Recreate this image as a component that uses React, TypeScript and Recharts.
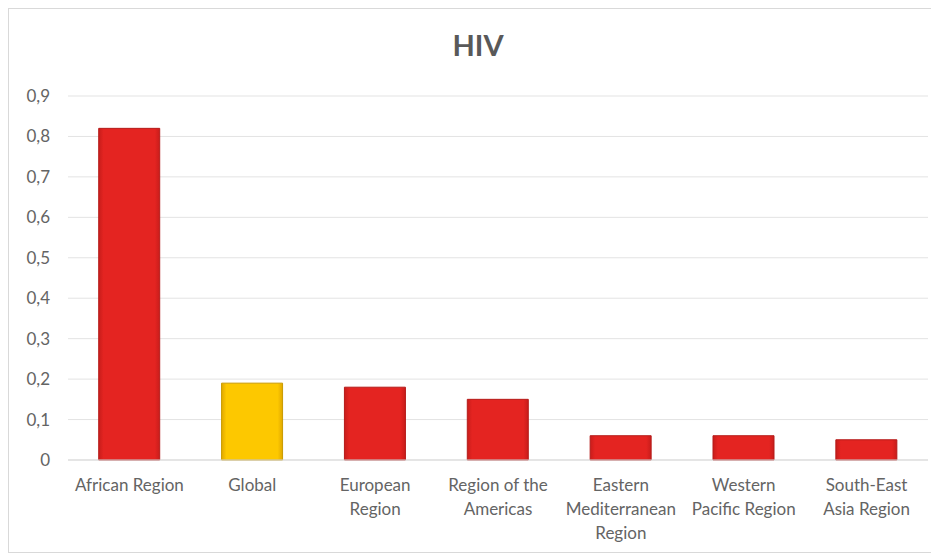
import type { JSX } from "react";
import { ComposedChart, Bar, Cell, CartesianGrid, XAxis, YAxis } from "recharts";

const regions = [
  "African Region",
  "Global",
  "European\nRegion",
  "Region of the\nAmericas",
  "Eastern\nMediterranean\nRegion",
  "Western\nPacific Region",
  "South-East\nAsia Region",
];
const hivValues = [0.82, 0.19, 0.18, 0.15, 0.06, 0.06, 0.05];
const yTicks = [0, 0.1, 0.2, 0.3, 0.4, 0.5, 0.6, 0.7, 0.8, 0.9];

const chartData = regions.map((region, i) => ({ region, value: hivValues[i] }));

const FONT = "Lato, 'Open Sans', sans-serif";
const TEXT = "#646464";

const RegionTick = (props: any): JSX.Element => {
  const { x, y, payload } = props;
  const lines = String(payload.value).split("\n");
  return (
    <text x={x} y={y} textAnchor="middle" fill={TEXT} fontSize={17} fontFamily={FONT}>
      {lines.map((line, i) => (
        <tspan key={i} x={x} dy={i === 0 ? 23 : 24}>
          {line}
        </tspan>
      ))}
    </text>
  );
};

const App = (): JSX.Element => {
  return (
    <div
      style={{
        position: "relative",
        width: 930,
        height: 545,
        border: "1px solid #d9d9d9",
        boxSizing: "border-box",
        background: "#fff",
      }}
    >
      <div
        style={{
          position: "absolute",
          top: 18,
          left: 5,
          width: "100%",
          textAlign: "center",
          fontFamily: FONT,
          fontWeight: 700,
          fontSize: 29,
          color: "#595959",
        }}
      >
        HIV
      </div>
      <ComposedChart
        width={928}
        height={543}
        data={chartData}
        margin={{ top: 87, right: 9, bottom: 12, left: 0 }}
        barCategoryGap="25%"
      >
        <defs>
          <linearGradient id="redFill" x1="0" y1="0" x2="1" y2="0">
            <stop offset="0" stopColor="#c81d1b" />
            <stop offset="0.08" stopColor="#e42421" />
            <stop offset="0.92" stopColor="#e42421" />
            <stop offset="1" stopColor="#c81d1b" />
          </linearGradient>
          <linearGradient id="goldFill" x1="0" y1="0" x2="1" y2="0">
            <stop offset="0" stopColor="#e0a800" />
            <stop offset="0.08" stopColor="#fdc800" />
            <stop offset="0.92" stopColor="#fdc800" />
            <stop offset="1" stopColor="#e0a800" />
          </linearGradient>
        </defs>
        <CartesianGrid vertical={false} stroke="#e3e3e3" />
        <XAxis
          dataKey="region"
          interval={0}
          height={80}
          tickLine={false}
          axisLine={{ stroke: "#d9d9d9" }}
          tick={<RegionTick />}
        />
        <YAxis
          width={59}
          domain={[0, 0.9]}
          ticks={yTicks}
          interval={0}
          tickLine={false}
          axisLine={false}
          tickMargin={12}
          tickFormatter={(v: number) => String(v).replace(".", ",")}
          tick={{ fill: TEXT, fontSize: 17, fontFamily: FONT }}
        />
        <Bar dataKey="value" isAnimationActive={false} strokeWidth={1}>
          {chartData.map((d) => (
            <Cell
              key={d.region}
              fill={d.region === "Global" ? "url(#goldFill)" : "url(#redFill)"}
              stroke={d.region === "Global" ? "#c99a00" : "#b51b19"}
            />
          ))}
        </Bar>
      </ComposedChart>
    </div>
  );
};

export default App;
